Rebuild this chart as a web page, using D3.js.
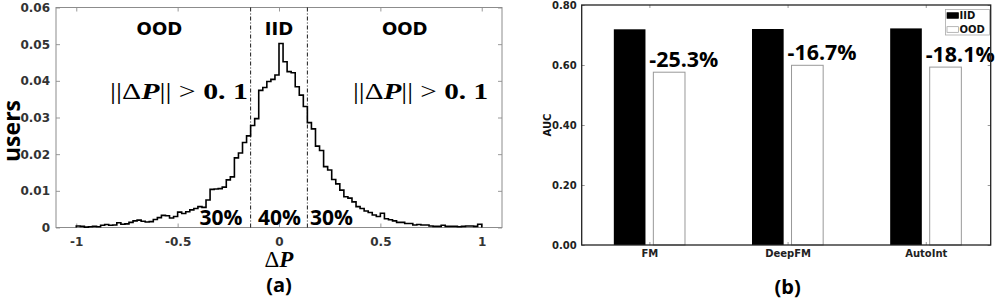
<!DOCTYPE html>
<html><head><meta charset="utf-8">
<script src="https://cdn.jsdelivr.net/npm/d3@7/dist/d3.min.js"></script>
<style>
html,body{margin:0;padding:0;background:#fff;}
svg{display:block;}
</style></head>
<body><svg id="chart" width="997" height="303"></svg>
<script>
// ---------- data: panel (a) ----------
const histStart = -1;           // first bin edge
const histBinWidth = 0.02;      // bin width
const histValues = [
  0.0004,0.0003,0.0001,0.0002,0.0003,0.0002,0.0006,0.0008,0.0006,0.0007,
  0.0013,0.0009,0.0010,0.0014,0.0018,0.0020,0.0017,0.0015,0.0016,0.0022,
  0.0027,0.0033,0.0032,0.0026,0.0030,0.0042,0.0038,0.0043,0.0048,0.0052,
  0.0057,0.0055,0.0075,0.0104,0.0105,0.0106,0.0110,0.0130,0.0138,0.0190,
  0.0203,0.0232,0.0250,0.0278,0.0297,0.0374,0.0382,0.0398,0.0404,0.0416,
  0.0502,0.0452,0.0425,0.0422,0.0384,0.0361,0.0330,0.0286,0.0269,0.0222,
  0.0210,0.0166,0.0157,0.0131,0.0119,0.0102,0.0084,0.0080,0.0070,0.0057,
  0.0052,0.0045,0.0041,0.0034,0.0030,0.0039,0.0024,0.0021,0.0018,0.0014,
  0.0014,0.0011,0.0011,0.0007,0.0008,0.0007,0.0007,0.0004,0.0003,0.0003,
  0.0006,0.0003,0.0003,0.0003,0.0002,0.0003,0.0004,0.0004,0.0003,0.0009
];
const splitLines = [-0.14, 0.14];
const histXTicks = [-1, -0.5, 0, 0.5, 1];
const histXTickLabels = ["-1", "-0.5", "0", "0.5", "1"];
const histYTicks = [0, 0.01, 0.02, 0.03, 0.04, 0.05, 0.06];
const histYTickLabels = ["0", "0.01", "0.02", "0.03", "0.04", "0.05", "0.06"];
const regionLabels = ["OOD", "IID", "OOD"];
const regionLabelX = [-0.59, 0.0, 0.62];
const shareLabels = ["30%", "40%", "30%"];

// ---------- data: panel (b) ----------
const models = ["FM", "DeepFM", "AutoInt"];
const aucIID = [0.719, 0.720, 0.722];
const aucOOD = [0.576, 0.599, 0.593];
const dropLabels = ["-25.3%", "-16.7%", "-18.1%"];
const aucTicks = [0, 0.2, 0.4, 0.6, 0.8];
const aucTickLabels = ["0.00", "0.20", "0.40", "0.60", "0.80"];
const legendNames = ["IID", "OOD"];

const svg = d3.select("#chart");
const tickFont = "'DejaVu Sans', sans-serif";
const bigFont = "'Open Sans', sans-serif";
const serif = "'Liberation Serif', 'DejaVu Serif', serif";

// ================= Panel (a) =================
const xA = d3.scaleLinear().domain([-1.1, 1.1]).range([56, 502]);
const yA = d3.scaleLinear().domain([0, 0.06]).range([227.5, 7.5]);
const gA = svg.append("g");

const axL = d3.axisLeft(yA).tickValues(histYTicks).tickFormat((d,i)=>histYTickLabels[i])
  .tickSizeInner(-4).tickSizeOuter(0).tickPadding(6);
const axB = d3.axisBottom(xA).tickValues(histXTicks).tickFormat((d,i)=>histXTickLabels[i])
  .tickSizeInner(-4).tickSizeOuter(0).tickPadding(10);
const axR = d3.axisRight(yA).tickValues(histYTicks).tickFormat("").tickSizeInner(-4).tickSizeOuter(0);
const axT = d3.axisTop(xA).tickValues(histXTicks).tickFormat("").tickSizeInner(-4).tickSizeOuter(0);

function styleAxis(g, color, textColor, fs){
  g.select(".domain").remove();
  g.selectAll(".tick line").attr("stroke", color);
  g.selectAll(".tick text").attr("fill", textColor).attr("font-family", tickFont)
    .attr("font-weight", "bold").attr("font-size", fs);
}
styleAxis(gA.append("g").attr("transform", `translate(${xA.range()[0]},0)`).call(axL), "#999", "#333", 12);
styleAxis(gA.append("g").attr("transform", `translate(0,${yA.range()[0]})`).call(axB), "#999", "#333", 12);
styleAxis(gA.append("g").attr("transform", `translate(${xA.range()[1]},0)`).call(axR), "#999", "#333", 12);
styleAxis(gA.append("g").attr("transform", `translate(0,${yA.range()[1]})`).call(axT), "#999", "#333", 12);

gA.append("rect").attr("x", xA.range()[0]).attr("y", yA.range()[1])
  .attr("width", xA.range()[1]-xA.range()[0]).attr("height", yA.range()[0]-yA.range()[1])
  .attr("fill", "none").attr("stroke", "#8c8c8c").attr("stroke-width", 1);

// stairs histogram
const pts = [[xA(histStart), yA(0)]];
histValues.forEach((v,i)=>{
  const x0 = histStart + i*histBinWidth, x1 = x0 + histBinWidth;
  pts.push([xA(x0), yA(v)]); pts.push([xA(x1), yA(v)]);
});
pts.push([xA(histStart + histValues.length*histBinWidth), yA(0)]);
gA.append("path").attr("d", d3.line()(pts)).attr("fill", "none")
  .attr("stroke", "#000").attr("stroke-width", 1.6).attr("stroke-linejoin", "miter");

// split lines
splitLines.forEach(s=>{
  gA.append("line").attr("x1", xA(s)).attr("x2", xA(s)).attr("y1", yA(0.06)).attr("y2", yA(0))
    .attr("stroke", "#000").attr("stroke-width", 0.9).attr("stroke-dasharray", "4,2,1,2");
});

// region labels
regionLabels.forEach((t,i)=>{
  gA.append("text").attr("x", xA(regionLabelX[i])).attr("y", 35).attr("text-anchor", "middle")
    .attr("font-family", tickFont).attr("font-weight", "bold").attr("font-size", 18).attr("fill", "#000").text(t);
});

// formula labels
function formula(xStart, len){
  const t = gA.append("text").attr("x", xStart).attr("y", 99).attr("font-family", serif)
    .attr("font-size", 24).attr("fill", "#000")
    .attr("textLength", len).attr("lengthAdjust", "spacingAndGlyphs");
  t.append("tspan").text("||\u0394");
  t.append("tspan").attr("font-weight", "bold").attr("font-style", "italic").text("P");
  t.append("tspan").text("|| > ");
  t.append("tspan").attr("font-weight", "bold").text("0. 1");
  return t;
}
formula(110, 138);
formula(353, 135);

// share labels
const shareX = [199.5, 258, 310];
shareLabels.forEach((t,i)=>{
  gA.append("text").attr("x", shareX[i]).attr("y", 224.5).attr("font-family", bigFont)
    .attr("font-weight", "bold").attr("font-size", 21).attr("fill", "#000").text(t);
});

// axis titles
gA.append("text").attr("transform", "translate(20,131) rotate(-90)").attr("text-anchor", "middle")
  .attr("font-family", bigFont).attr("font-weight", "bold").attr("font-size", 23).attr("fill", "#000").text("users");
const xt = gA.append("text").attr("x", xA(0)).attr("y", 267).attr("text-anchor", "middle")
  .attr("font-family", serif).attr("font-size", 23).attr("fill", "#000");
xt.append("tspan").text("\u0394");
xt.append("tspan").attr("font-weight", "bold").attr("font-style", "italic").text("P");
gA.append("text").attr("x", xA(0)).attr("y", 292).attr("text-anchor", "middle")
  .attr("font-family", bigFont).attr("font-weight", "bold").attr("font-size", 20).attr("fill", "#000").text("(a)");

// ================= Panel (b) =================
const xB = d3.scaleLinear().domain([0.51, 3.47]).range([581.7, 990.7]);
const yB = d3.scaleLinear().domain([0, 0.8]).range([245, 5]);
const gB = svg.append("g");
const barOff = 0.143, barW = 0.229;

const bL = d3.axisLeft(yB).tickValues(aucTicks).tickFormat((d,i)=>aucTickLabels[i])
  .tickSizeInner(-3).tickSizeOuter(0).tickPadding(5);
const bB = d3.axisBottom(xB).tickValues(models.map((d,i)=>i+1)).tickFormat((d,i)=>models[i])
  .tickSizeInner(-3).tickSizeOuter(0).tickPadding(5);
const bR = d3.axisRight(yB).tickValues(aucTicks).tickFormat("").tickSizeInner(-3).tickSizeOuter(0);
const bT = d3.axisTop(xB).tickValues(models.map((d,i)=>i+1)).tickFormat("").tickSizeInner(-3).tickSizeOuter(0);
styleAxis(gB.append("g").attr("transform", `translate(${xB.range()[0]},0)`).call(bL), "#999", "#222", 10);
styleAxis(gB.append("g").attr("transform", `translate(0,${yB.range()[0]})`).call(bB), "#999", "#222", 10);
styleAxis(gB.append("g").attr("transform", `translate(${xB.range()[1]},0)`).call(bR), "#999", "#222", 10);
styleAxis(gB.append("g").attr("transform", `translate(0,${yB.range()[1]})`).call(bT), "#999", "#222", 10);

// bars
models.forEach((m,i)=>{
  const c = i+1;
  gB.append("rect").attr("x", xB(c-barOff-barW/2)).attr("width", xB(barW)-xB(0))
    .attr("y", yB(aucIID[i])).attr("height", yB(0)-yB(aucIID[i])).attr("fill", "#000");
  gB.append("rect").attr("x", xB(c+barOff-barW/2)).attr("width", xB(barW)-xB(0))
    .attr("y", yB(aucOOD[i])).attr("height", yB(0)-yB(aucOOD[i]))
    .attr("fill", "#fff").attr("stroke", "#999").attr("stroke-width", 1);
  gB.append("text").attr("x", xB(c+barOff-barW/2)-4).attr("y", yB(aucOOD[i])-5.5)
    .attr("font-family", bigFont).attr("font-weight", "bold").attr("font-size", 22).attr("fill", "#000")
    .attr("textLength", 69).attr("lengthAdjust", "spacingAndGlyphs")
    .text(dropLabels[i]);
});

// frame
gB.append("rect").attr("x", xB.range()[0]).attr("y", yB.range()[1])
  .attr("width", xB.range()[1]-xB.range()[0]).attr("height", yB.range()[0]-yB.range()[1])
  .attr("fill", "none").attr("stroke", "#222").attr("stroke-width", 1.3);

// legend
const lg = gB.append("g");
lg.append("rect").attr("x", 945.5).attr("y", 9.5).attr("width", 44).attr("height", 25.5)
  .attr("fill", "#fff").attr("stroke", "#aaa").attr("stroke-width", 0.8);
legendNames.forEach((n,i)=>{
  const y = 12.7 + i*14;
  lg.append("rect").attr("x", 947).attr("y", y).attr("width", 11.5).attr("height", 5.6)
    .attr("fill", i===0 ? "#000" : "#fff").attr("stroke", i===0 ? "#000" : "#999").attr("stroke-width", 0.7);
  lg.append("text").attr("x", 959.5).attr("y", y+6.5).attr("font-family", tickFont)
    .attr("font-weight", "bold").attr("font-size", 10).attr("fill", "#111").text(n);
});

// axis titles
gB.append("text").attr("transform", "translate(551,125) rotate(-90)").attr("text-anchor", "middle")
  .attr("font-family", tickFont).attr("font-weight", "bold").attr("font-size", 10).attr("fill", "#111").text("AUC");
gB.append("text").attr("x", xB(2)).attr("y", 294).attr("text-anchor", "middle")
  .attr("font-family", bigFont).attr("font-weight", "bold").attr("font-size", 20).attr("fill", "#000").text("(b)");
</script>
</body></html>
